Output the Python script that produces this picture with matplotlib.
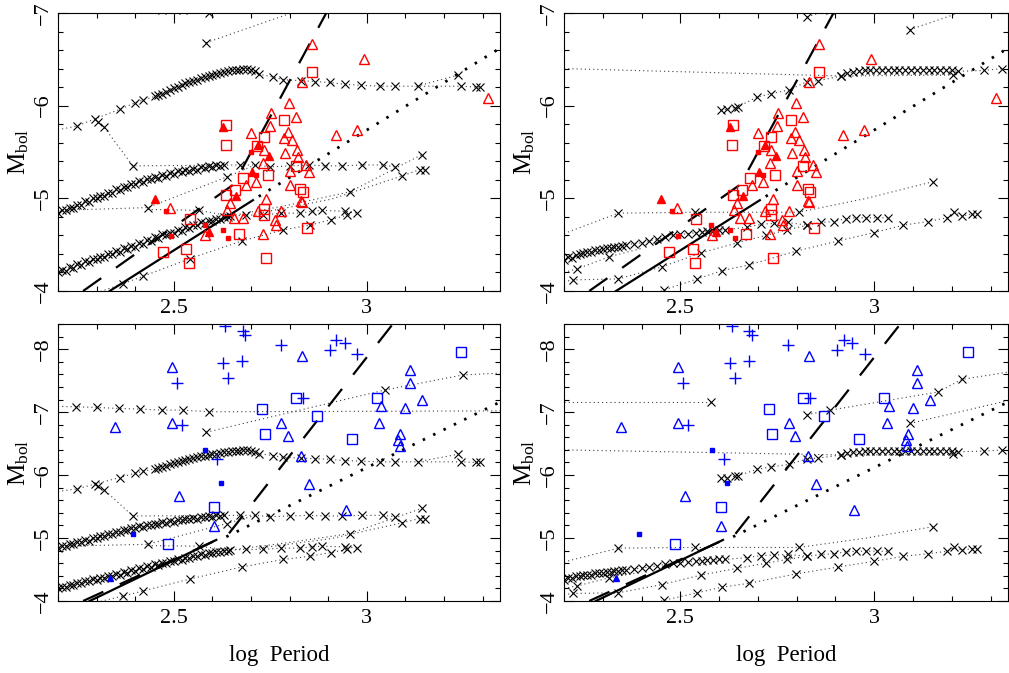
import numpy as np
import matplotlib
matplotlib.use("Agg")
import matplotlib.pyplot as plt
from matplotlib.ticker import MultipleLocator, FormatStrFormatter

plt.rcParams['font.family'] = ['Liberation Serif', 'DejaVu Serif']
plt.rcParams['mathtext.fontset'] = 'custom'
plt.rcParams['mathtext.rm'] = 'Liberation Serif'
plt.rcParams['mathtext.it'] = 'Liberation Serif:italic'
plt.rcParams['lines.scale_dashes'] = False

# ---- observed stars, top row (red) ----
red_tri_p = [2.858, 2.992, 3.314, 2.833, 2.798, 2.753, 2.817, 2.748, 2.701, 2.919, 2.974, 2.796,
             2.785, 2.805, 2.820, 2.733, 2.789, 2.822, 2.731, 2.843, 2.802, 2.850, 2.712, 2.686,
             2.800, 2.645, 2.638, 2.491, 2.738, 2.830, 2.833, 2.718, 2.678, 2.655, 2.779, 2.761,
             2.764, 2.731, 2.582]
red_tri_m = [-6.67, -6.50, -6.08, -6.26, -6.03, -5.92, -5.88, -5.78, -5.70, -5.68, -5.74, -5.72,
             -5.65, -5.63, -5.52, -5.52, -5.49, -5.45, -5.38, -5.36, -5.29, -5.28, -5.18, -5.14,
             -5.14, -4.95, -4.87, -4.90, -4.99, -4.97, -4.96, -4.86, -4.79, -4.79, -4.86, -4.77,
             -4.71, -4.62, -4.60]
red_sq_p = [2.858, 2.785, 2.636, 2.734, 2.634, 2.716, 2.744, 2.679, 2.659, 2.636, 2.816, 2.828,
            2.835, 2.733, 2.733, 2.541, 2.669, 2.845, 2.472, 2.532, 2.539, 2.738]
red_sq_m = [-6.36, -5.85, -5.79, -5.66, -5.58, -5.56, -5.25, -5.22, -5.09, -5.04, -5.35, -5.10,
            -5.07, -4.89, -4.82, -4.78, -4.61, -4.68, -4.42, -4.45, -4.30, -4.36]
red_ftri_p = [2.627, 2.718, 2.747, 2.703, 2.450, 2.662, 2.591]
red_ftri_m = [-5.77, -5.58, -5.46, -5.28, -4.99, -5.03, -4.64]
red_fsq_p = [2.701, 2.712, 2.479, 2.580, 2.627, 2.640, 2.494]
red_fsq_m = [-5.50, -5.25, -4.86, -4.71, -4.66, -4.57, -4.59]

# ---- observed stars, bottom row (blue) ----
blue_plus_p = [2.632, 2.678, 2.684, 2.777, 2.921, 2.943, 2.904, 2.975, 2.627, 2.677, 2.640,
               2.507, 2.835, 2.520, 2.612]
blue_plus_m = [-8.37, -8.29, -8.22, -8.06, -8.14, -8.09, -7.99, -7.92, -7.78, -7.81, -7.54,
               -7.47, -7.22, -6.79, -6.25]
blue_tri_p = [2.495, 2.833, 3.111, 3.111, 3.144, 3.038, 3.099, 2.348, 2.495, 2.779, 3.032,
              2.795, 3.087, 3.081, 3.085, 2.830, 2.851, 2.513, 2.947, 2.604]
blue_tri_m = [-7.71, -7.89, -7.67, -7.47, -7.20, -7.10, -7.06, -6.77, -6.82, -6.82, -6.82,
              -6.62, -6.65, -6.56, -6.46, -6.31, -5.86, -5.66, -5.44, -5.19]
blue_sq_p = [3.243, 2.816, 3.026, 2.728, 2.871, 2.736, 2.962, 2.604, 2.486]
blue_sq_m = [-7.96, -7.22, -7.23, -7.05, -6.94, -6.65, -6.57, -5.49, -4.90]
blue_fsq_p = [2.581, 2.621, 2.394]
blue_fsq_m = [-6.40, -5.88, -5.06]
blue_ftri_p = [2.334]
blue_ftri_m = [-4.37]

# ---- reference relations ----
top_dash_p = [2.265, 2.655, 2.895]
top_dash_m = [-4.0, -5.15, -7.0]
top_solid_p = [2.334, 2.705]
top_solid_m = [-4.0, -4.98]
top_dot_p = [2.72, 3.345]
top_dot_m = [-5.02, -6.62]
bot_dash_p = [2.265, 2.64, 3.07]
bot_dash_m = [-4.0, -5.05, -8.42]
bot_solid_p = [2.282, 2.610]
bot_solid_m = [-4.0, -4.97]
bot_dot_p = [2.636, 3.345]
bot_dot_m = [-5.02, -7.16]

# ---- model tracks, left column (p, M, marker flag) ----
lA_p = [2.2, 2.247, 2.302, 2.357, 2.413, 2.469, 2.524, 2.591, 3.345]
lA_m = [-7.09, -7.085, -7.074, -7.058, -7.048, -7.032, -7.032, -7.005, -7.02]
lA_k = [0, 1, 1, 1, 1, 1, 1, 1, 0]
lB_p = [2.584, 3.046, 3.249, 3.345]
lB_m = [-6.68, -7.35, -7.59, -7.62]
lB_k = [1, 1, 1, 0]
lC_p = [2.2, 2.249, 2.297, 2.36, 2.399, 2.42, 2.45, 2.46, 2.47, 2.48, 2.49, 2.50, 2.51, 2.52,
        2.53, 2.54, 2.55, 2.56, 2.57, 2.58, 2.59, 2.60, 2.61, 2.62, 2.63, 2.64, 2.65, 2.66,
        2.67, 2.68, 2.69, 2.70, 2.71, 2.72, 2.757, 2.783, 2.830, 2.865, 2.904, 2.943, 2.986,
        3.033, 3.072, 3.133, 3.245, 3.284, 3.292]
lC_m = [-5.74, -5.78, -5.86, -5.96, -6.03, -6.06, -6.10, -6.12, -6.13, -6.15, -6.17, -6.19,
        -6.20, -6.22, -6.24, -6.25, -6.27, -6.28, -6.30, -6.31, -6.32, -6.33, -6.34, -6.35,
        -6.36, -6.37, -6.38, -6.39, -6.39, -6.40, -6.40, -6.39, -6.37, -6.34, -6.31, -6.28,
        -6.27, -6.26, -6.25, -6.23, -6.22, -6.21, -6.21, -6.21, -6.21, -6.20, -6.20]
lC_k = [0] + [1] * 46
lC2_p = [2.304, 2.319, 2.394, 2.671, 2.710, 2.75, 2.80, 2.849, 2.892, 2.935, 2.987, 3.043, 3.073]
lC2_m = [-5.82, -5.77, -5.35, -5.36, -5.36, -5.34, -5.35, -5.36, -5.35, -5.35, -5.36, -5.36, -5.34]
lC2_k = [1] * 13
lC3_p = [3.13, 3.236]
lC3_m = [-6.21, -6.33]
lC3_k = [0, 1]
lD_p = [2.20, 2.21, 2.22, 2.23, 2.24, 2.25, 2.26, 2.27, 2.28, 2.29, 2.30, 2.31, 2.32, 2.33,
        2.34, 2.35, 2.36, 2.37, 2.38, 2.39, 2.40, 2.41, 2.42, 2.43, 2.44, 2.45, 2.46, 2.47,
        2.48, 2.49, 2.50, 2.51, 2.52, 2.53, 2.54, 2.55, 2.56, 2.57, 2.58, 2.59, 2.60, 2.61,
        2.62, 2.63]
lD_m = [-4.84, -4.87, -4.87, -4.90, -4.90, -4.93, -4.93, -4.97, -4.96, -5.00, -5.00, -5.03,
        -5.03, -5.06, -5.06, -5.10, -5.09, -5.12, -5.12, -5.16, -5.16, -5.19, -5.18, -5.21,
        -5.21, -5.23, -5.22, -5.25, -5.24, -5.27, -5.26, -5.29, -5.28, -5.31, -5.30, -5.32,
        -5.31, -5.34, -5.33, -5.35, -5.34, -5.36, -5.35, -5.36]
lD_k = [1] * 44
lE_p = [2.20, 2.21, 2.22, 2.23, 2.24, 2.25, 2.26, 2.27, 2.28, 2.29, 2.30, 2.31, 2.32, 2.33,
        2.34, 2.35, 2.36, 2.37, 2.38, 2.39, 2.40, 2.41, 2.42, 2.43, 2.44, 2.45, 2.46, 2.47,
        2.48, 2.49, 2.50, 2.51, 2.52, 2.53, 2.54, 2.55, 2.56, 2.57, 2.58, 2.59, 2.60, 2.61,
        2.62, 2.63, 2.64]
lE_m = [-4.20, -4.23, -4.22, -4.26, -4.25, -4.29, -4.28, -4.32, -4.31, -4.35, -4.34, -4.37,
        -4.37, -4.40, -4.40, -4.43, -4.42, -4.46, -4.45, -4.49, -4.48, -4.52, -4.51, -4.55,
        -4.54, -4.58, -4.57, -4.61, -4.60, -4.63, -4.63, -4.66, -4.65, -4.69, -4.68, -4.71,
        -4.71, -4.74, -4.73, -4.76, -4.76, -4.78, -4.78, -4.80, -4.80]
lE_k = [1] * 45
lF_p = [2.2, 2.432, 2.637, 2.71]
lF_m = [-4.87, -4.90, -5.23, -5.36]
lF_k = [0, 1, 1, 0]
lG_p = [2.432, 2.565, 2.645, 2.688, 2.731, 2.779, 2.827, 2.857, 2.883, 2.944, 2.974]
lG_m = [-4.88, -4.87, -4.81, -4.82, -4.82, -4.84, -4.84, -4.86, -4.87, -4.86, -4.84]
lG_k = [0, 1, 1, 1, 1, 1, 1, 1, 1, 1, 1]
lH_p = [2.30, 2.369, 2.421, 2.542, 2.676, 2.784, 2.852, 2.907, 2.95]
lH_m = [-3.98, -4.08, -4.16, -4.35, -4.54, -4.66, -4.71, -4.77, -4.82]
lH_k = [0, 1, 1, 1, 1, 1, 1, 1, 1]
lI_p = [2.66, 2.80, 2.956, 3.142]
lI_m = [-4.82, -4.93, -5.07, -5.47]
lI_k = [0, 0, 1, 1]
lJ_p = [2.72, 2.907, 3.09, 3.137, 3.151]
lJ_m = [-4.84, -4.99, -5.24, -5.31, -5.31]
lJ_k = [0, 0, 1, 1, 1]

# ---- model tracks, right column ----
rA_p = [2.2, 2.58]
rA_m = [-7.16, -7.16]
rA_k = [0, 1]
rB_p = [2.827, 2.885, 3.165, 3.226, 3.35]
rB_m = [-6.96, -7.03, -7.32, -7.52, -7.64]
rB_k = [1, 1, 1, 1, 0]
rC_p = [3.092, 3.35]
rC_m = [-6.82, -7.19]
rC_k = [1, 0]
rD_p = [2.2, 2.915, 2.93, 2.945, 2.96, 2.975, 2.99, 3.005, 3.02, 3.035, 3.05, 3.065, 3.08,
        3.095, 3.11, 3.125, 3.14, 3.155, 3.17, 3.185, 3.20, 3.215, 3.282, 3.33]
rD_m = [-6.40, -6.32, -6.35, -6.36, -6.37, -6.38, -6.38, -6.38, -6.39, -6.39, -6.39, -6.39,
        -6.39, -6.39, -6.39, -6.39, -6.39, -6.39, -6.39, -6.39, -6.38, -6.37, -6.38, -6.40]
rD_k = [0] + [1] * 23
rE_p = [2.604, 2.62, 2.64, 2.649, 2.697, 2.734, 2.781, 2.827, 2.856, 2.915, 3.204]
rE_m = [-5.95, -5.96, -5.98, -5.99, -6.09, -6.13, -6.17, -6.26, -6.27, -6.32, -6.33]
rE_k = [1] * 11
rF_p = [2.2, 2.340, 2.539, 2.805, 2.98, 3.152]
rF_m = [-4.62, -4.84, -4.85, -4.85, -5.00, -5.18]
rF_k = [0, 1, 1, 1, 0, 1]
rG_p = [2.20, 2.21, 2.22, 2.23, 2.24, 2.25, 2.26, 2.27, 2.28, 2.29, 2.30, 2.31, 2.32, 2.33,
        2.34, 2.35, 2.36, 2.38, 2.40, 2.42, 2.44, 2.46, 2.48, 2.50, 2.52, 2.54, 2.555, 2.57,
        2.585, 2.60, 2.615, 2.673, 2.708, 2.742, 2.777, 2.827, 2.863, 2.896, 2.926, 2.954,
        2.98, 3.006, 3.035]
rG_m = [-4.33, -4.37, -4.36, -4.39, -4.40, -4.41, -4.42, -4.42, -4.44, -4.44, -4.45, -4.46,
        -4.46, -4.47, -4.48, -4.49, -4.50, -4.51, -4.52, -4.54, -4.56, -4.58, -4.60, -4.61,
        -4.62, -4.63, -4.64, -4.65, -4.65, -4.66, -4.66, -4.69, -4.72, -4.73, -4.74, -4.71,
        -4.74, -4.75, -4.78, -4.79, -4.79, -4.79, -4.79]
rG_k = [1] * 43
rI_p = [2.2, 2.223, 2.340, 2.452, 2.552, 2.647, 2.721, 2.775, 2.827]
rI_m = [-4.10, -4.12, -4.13, -4.26, -4.41, -4.52, -4.60, -4.66, -4.71]
rI_k = [0, 1, 1, 1, 1, 1, 1, 1, 1]
rI2_p = [2.2, 2.234, 2.317, 2.40]
rI2_m = [-4.20, -4.24, -4.37, -4.46]
rI2_k = [0, 1, 1, 0]
rJ_p = [2.44, 2.457, 2.543, 2.608, 2.676, 2.798, 2.907, 2.999, 3.075, 3.138, 3.188, 3.205,
        3.227, 3.251, 3.266]
rJ_m = [-3.98, -4.01, -4.13, -4.22, -4.28, -4.43, -4.54, -4.63, -4.71, -4.75, -4.79, -4.85,
        -4.81, -4.83, -4.83]
rJ_k = [0] + [1] * 14

left_tracks = [(lA_p, lA_m, lA_k), (lB_p, lB_m, lB_k), (lC_p, lC_m, lC_k), (lC2_p, lC2_m, lC2_k),
               (lC3_p, lC3_m, lC3_k), (lD_p, lD_m, lD_k), (lE_p, lE_m, lE_k), (lF_p, lF_m, lF_k),
               (lG_p, lG_m, lG_k), (lH_p, lH_m, lH_k), (lI_p, lI_m, lI_k), (lJ_p, lJ_m, lJ_k)]
right_tracks = [(rA_p, rA_m, rA_k), (rB_p, rB_m, rB_k), (rC_p, rC_m, rC_k), (rD_p, rD_m, rD_k),
                (rE_p, rE_m, rE_k), (rF_p, rF_m, rF_k), (rG_p, rG_m, rG_k), (rI_p, rI_m, rI_k),
                (rI2_p, rI2_m, rI2_k), (rJ_p, rJ_m, rJ_k)]


def draw_tracks(ax, tracks):
    for p, m, k in tracks:
        p, m, k = np.array(p), np.array(m), np.array(k, dtype=bool)
        ax.plot(p, m, ls=(0, (0.8, 2.2)), lw=0.8, color='0.25', zorder=1)
        ax.plot(p[k], m[k], 'x', ms=5.5, mew=0.8, color='k', ls='none', zorder=2)


def draw_lines(ax, dp, dm, sp, sm, op, om):
    ax.plot(dp, dm, color='k', lw=1.6, ls=(0, (16, 13)), zorder=3)
    ax.plot(sp, sm, color='k', lw=1.6, zorder=3)
    ax.plot(op, om, color='k', lw=2.0, ls=(0, (1.8, 6.5)), zorder=3)


def style(ax, ymin, ymax, xlabel):
    ax.set_xlim(2.2, 3.345)
    ax.set_ylim(ymin, ymax)
    ax.xaxis.set_major_locator(MultipleLocator(0.5))
    ax.xaxis.set_minor_locator(MultipleLocator(0.1))
    ax.xaxis.set_major_formatter(FormatStrFormatter('%g'))
    ax.yaxis.set_major_locator(MultipleLocator(1))
    ax.yaxis.set_minor_locator(MultipleLocator(0.2))
    ax.tick_params(which='both', direction='in', top=True, right=True, width=0.8)
    ax.tick_params(which='major', length=7, labelsize=16, pad=6)
    ax.tick_params(which='minor', length=3.6)
    ax.tick_params(axis='y', labelrotation=90, pad=4)
    for lab in ax.get_yticklabels():
        lab.set_va('center')
    for s in ax.spines.values():
        s.set_linewidth(0.8)
    ax.set_ylabel(r'$\mathrm{M_{bol}}$', fontsize=18, labelpad=2)
    if xlabel:
        ax.set_xlabel('log  Period', fontsize=16.5, labelpad=12)


def draw_red(ax):
    ax.plot(red_tri_p, red_tri_m, '^', ms=7.5, mfc='none', mec='red', mew=1.0, ls='none', zorder=4)
    ax.plot(red_sq_p, red_sq_m, 's', ms=6.5, mfc='none', mec='red', mew=1.0, ls='none', zorder=4)
    ax.plot(red_ftri_p, red_ftri_m, '^', ms=6, color='red', ls='none', zorder=4)
    ax.plot(red_fsq_p, red_fsq_m, 's', ms=3.2, color='red', ls='none', zorder=4)


def draw_blue(ax):
    ax.plot(blue_plus_p, blue_plus_m, '+', ms=8, mew=1.0, color='blue', ls='none', zorder=4)
    ax.plot(blue_tri_p, blue_tri_m, '^', ms=7.5, mfc='none', mec='blue', mew=1.0, ls='none', zorder=4)
    ax.plot(blue_sq_p, blue_sq_m, 's', ms=6.5, mfc='none', mec='blue', mew=1.0, ls='none', zorder=4)
    ax.plot(blue_fsq_p, blue_fsq_m, 's', ms=3.5, color='blue', ls='none', zorder=4)
    ax.plot(blue_ftri_p, blue_ftri_m, '^', ms=5, color='blue', ls='none', zorder=4)


fig = plt.figure(figsize=(10.09, 6.73), dpi=100)
ax_tl = fig.add_axes([0.0575, 0.5676, 0.438, 0.4131])
ax_tr = fig.add_axes([0.559, 0.5676, 0.440, 0.4131])
ax_bl = fig.add_axes([0.0575, 0.1070, 0.438, 0.4116])
ax_br = fig.add_axes([0.559, 0.1070, 0.440, 0.4116])

for ax, tracks in [(ax_tl, left_tracks), (ax_tr, right_tracks)]:
    draw_tracks(ax, tracks)
    draw_lines(ax, top_dash_p, top_dash_m, top_solid_p, top_solid_m, top_dot_p, top_dot_m)
    draw_red(ax)
    style(ax, -4, -7, False)

for ax, tracks in [(ax_bl, left_tracks), (ax_br, right_tracks)]:
    draw_tracks(ax, tracks)
    draw_lines(ax, bot_dash_p, bot_dash_m, bot_solid_p, bot_solid_m, bot_dot_p, bot_dot_m)
    draw_blue(ax)
    style(ax, -4, -8.4, True)

fig.savefig('out.png', dpi=100)
